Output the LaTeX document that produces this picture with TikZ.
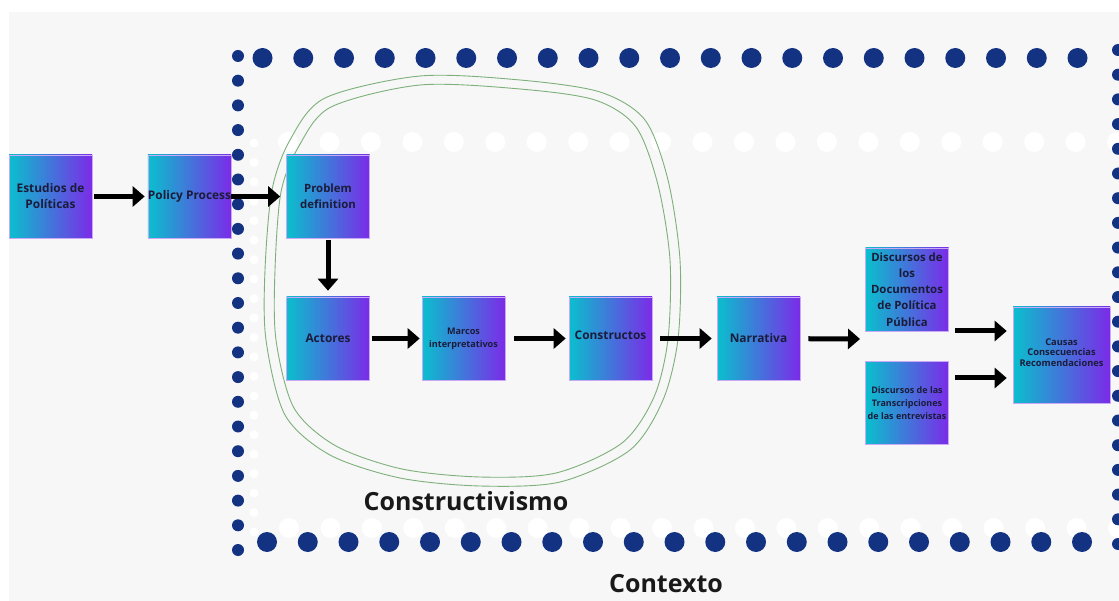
\documentclass[tikz,border=0pt]{standalone}
\usepackage{fontspec}
\setmainfont{Open Sans}
\usetikzlibrary{arrows.meta}

\definecolor{panel}{HTML}{F7F7F7}
\definecolor{dotblue}{HTML}{133382}
\definecolor{boxcyan}{HTML}{0ABFCD}
\definecolor{boxviolet}{HTML}{7B2BE8}
\definecolor{boxedge}{HTML}{C9A8F5}
\definecolor{boxtext}{HTML}{1B1B3A}
\definecolor{loopgreen}{HTML}{7DB07A}

\begin{document}
\begin{tikzpicture}[x=1pt,y=-1pt,
  box/.style={rectangle,draw=boxedge,line width=0.6pt,left color=boxcyan,right color=boxviolet,
    minimum width=83pt,minimum height=83pt,inner sep=0pt,align=center,text=boxtext},
  big/.style={font=\bfseries\fontsize{11.9}{16}\selectfont},
  small/.style={font=\bfseries\fontsize{9.1}{13}\selectfont},
  flow/.style={-{Triangle[length=12pt,width=20pt]},line width=5pt},
  loopline/.style={loopgreen,line width=0.9pt},
  title/.style={font=\bfseries\fontsize{25}{28}\selectfont,text=black!90}]
  \useasboundingbox (0,0) rectangle (1119,601);
  \fill[white] (0,0) rectangle (1119,601);
  \fill[panel] (9,12) rectangle (1119,601);
  % white dots of the inner frame
  \foreach \i in {0,...,20}{
    \fill[white] ({288+41.45*\i},142) circle (10pt);
    \fill[white] ({289+41.45*\i},528) circle (10pt);
    \fill[white] (254,{143+19.45*\i}) circle (4.5pt);
  }
  % blue dots of the outer frame
  \foreach \i in {0,...,20}{
    \fill[dotblue] ({262.5+40.75*\i},58) circle (10pt);
    \fill[dotblue] ({267+40.75*\i},542) circle (10pt);
    \fill[dotblue] (238,{56+24.7*\i}) circle (6pt);
    \fill[dotblue] (1118,{50+24.7*\i}) circle (6pt);
  }
  % constructivism loop
  \draw[loopline] plot[smooth cycle] coordinates {(420,76) (520,80) (600,92) (645,120) (668,180)
    (680,260) (678,339) (663,400) (630,450) (560,482) (480,486) (400,478) (330,455) (285,415)
    (266,340) (265,270) (272,190) (290,140) (325,98)};
  \draw[loopline] plot[smooth cycle] coordinates {(420,85) (520,89) (595,100) (636,127) (658,185)
    (670,260) (668,339) (654,397) (622,443) (556,473) (480,477) (402,469) (336,446) (294,408)
    (276,340) (275,270) (281,192) (299,146) (331,107)};
  % boxes
  \node[box,big] (estudios) at (50.5,196.5) {Estudios de\\Políticas};
  \node[box,big] (policy) at (189.5,196.5) {Policy Process};
  \node[box,big,font=\bfseries\fontsize{11.4}{16}\selectfont] (problem) at (328,196.5) {Problem\\definition};
  \node[box,big] (actores) at (328,338.5) {Actores};
  \node[box,small] (marcos) at (463.5,338.5) {Marcos\\interpretativos};
  \node[box,big] (constructos) at (610.5,338.5) {\raisebox{7pt}{Constructos}};
  \node[box,big] (narrativa) at (758.5,338.5) {Narrativa};
  \node[box,font=\bfseries\fontsize{11.4}{16.2}\selectfont] (docs) at (907,289.5) {Discursos de\\los\\Documentos\\de Política\\Pública};
  \node[box,small,font=\bfseries\fontsize{9}{13.2}\selectfont] (entrev) at (907,403) {Discursos de las\\Transcripciones\\de las entrevistas};
  \node[box,small,font=\bfseries\fontsize{9.3}{13.5}\selectfont,minimum width=97pt,minimum height=96pt] (causas) at (1061.5,355) {\raisebox{5pt}{\shortstack{Causas\\Consecuencias\\Recomendaciones}}};
  % labels
  \node[title] (constructivismo) at (466,501) {Constructivismo};
  \node[title] (contexto) at (666,584) {Contexto};
  % connectors
  \coordinate (split) at (860,339);
  \coordinate (docsout) at (955,331);
  \coordinate (entrevout) at (955,378);
  \draw[flow,shorten <=2pt,shorten >=3pt] (estudios) -- (policy);
  \draw[flow,shorten >=6pt] (policy) -- (problem);
  \draw[flow,shorten <=2pt,shorten >=6pt] (problem) -- (actores);
  \draw[flow,shorten <=2pt,shorten >=2pt] (actores) -- (marcos);
  \draw[flow,shorten <=9pt,shorten >=3pt] (marcos) -- (constructos);
  \draw[flow,shorten <=8pt,shorten >=5pt] (constructos) -- (narrativa);
  \draw[flow,shorten <=8pt] (narrativa) -- (split);
  \draw[flow,shorten >=6pt] (docsout) -- (docsout -| causas.west);
  \draw[flow,shorten >=6pt] (entrevout) -- (entrevout -| causas.west);
\end{tikzpicture}
\end{document}
